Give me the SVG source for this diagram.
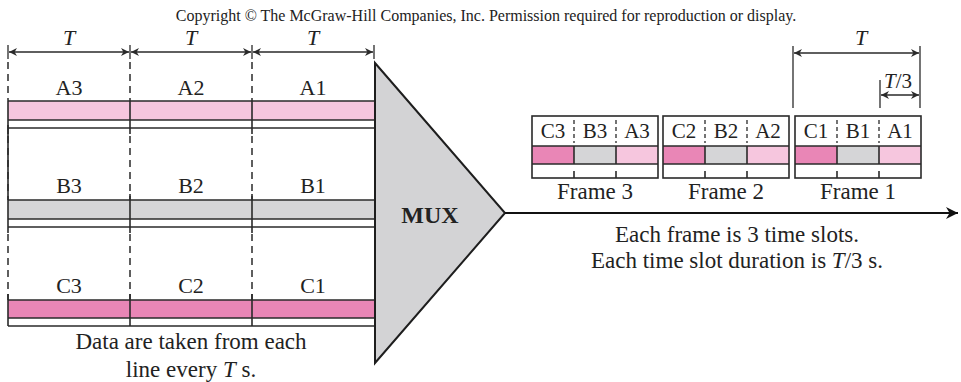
<svg xmlns="http://www.w3.org/2000/svg" width="961" height="382" viewBox="0 0 961 382">
  <style>
    .t { font-family: "Liberation Serif", "Times New Roman", serif; fill: #222; }
    .lbl { font-size: 22px; text-anchor: middle; }
    .big { font-size: 23px; text-anchor: middle; }
    .slot { font-size: 21px; text-anchor: middle; }
    .it { font-style: italic; }
    .ln { stroke: #2a2a2a; stroke-width: 1.6; fill: none; }
    .thin { stroke: #2a2a2a; stroke-width: 1.3; fill: none; }
    .dash { stroke: #2a2a2a; stroke-width: 1.5; stroke-dasharray: 7 5; fill: none; }
    .sdash { stroke: #2a2a2a; stroke-width: 1.3; stroke-dasharray: 4 3; fill: none; }
    .pa { fill: #f6c6de; }
    .pb { fill: #d5d5d7; }
    .pc { fill: #e986b6; }
  </style>
  <defs>
    <marker id="ah" viewBox="0 0 10 10" refX="10" refY="5" markerWidth="10" markerHeight="8" markerUnits="userSpaceOnUse" orient="auto-start-reverse">
      <path d="M0,0 L10,5 L0,10 L3,5 z" fill="#2a2a2a"/>
    </marker>
    <marker id="big" viewBox="0 0 10 10" refX="10" refY="5" markerWidth="15" markerHeight="12" markerUnits="userSpaceOnUse" orient="auto">
      <path d="M0,0 L10,5 L0,10 L3,5 z" fill="#111"/>
    </marker>
  </defs>

  <rect width="961" height="382" fill="#fff"/>

  <text class="t" x="486" y="21" font-size="16" text-anchor="middle">Copyright © The McGraw-Hill Companies, Inc. Permission required for reproduction or display.</text>

  <!-- period dimension marks above the input lines -->
  <g id="period-dims">
    <line class="thin" x1="8" y1="45" x2="8" y2="59"/>
    <line class="thin" x1="130" y1="45" x2="130" y2="59"/>
    <line class="thin" x1="252" y1="45" x2="252" y2="59"/>
    <line class="thin" x1="374" y1="45" x2="374" y2="59"/>
    <line class="thin" x1="9" y1="52" x2="129" y2="52" marker-start="url(#ah)" marker-end="url(#ah)"/>
    <line class="thin" x1="131" y1="52" x2="251" y2="52" marker-start="url(#ah)" marker-end="url(#ah)"/>
    <line class="thin" x1="253" y1="52" x2="373" y2="52" marker-start="url(#ah)" marker-end="url(#ah)"/>
    <text class="t lbl it" x="69" y="45">T</text>
    <text class="t lbl it" x="191" y="45">T</text>
    <text class="t lbl it" x="313" y="45">T</text>
  </g>

  <!-- dashed period boundaries -->
  <g id="boundaries">
    <line class="dash" x1="8" y1="62" x2="8" y2="101"/>
    <line class="dash" x1="130" y1="62" x2="130" y2="101"/>
    <line class="dash" x1="252" y1="62" x2="252" y2="101"/>
    <line class="dash" x1="8" y1="136" x2="8" y2="200"/>
    <line class="dash" x1="130" y1="136" x2="130" y2="200"/>
    <line class="dash" x1="252" y1="136" x2="252" y2="200"/>
    <line class="dash" x1="8" y1="234" x2="8" y2="300"/>
    <line class="dash" x1="130" y1="234" x2="130" y2="300"/>
    <line class="dash" x1="252" y1="234" x2="252" y2="300"/>
  </g>

  <!-- input line A -->
  <g id="line-a">
    <rect class="pa" x="8" y="101" width="367" height="19"/>
    <line class="ln" x1="8" y1="101" x2="375" y2="101"/>
    <line class="ln" x1="8" y1="120" x2="375" y2="120"/>
    <line class="ln" x1="8" y1="128" x2="375" y2="128"/>
    <line class="ln" x1="8" y1="101" x2="8" y2="134"/>
    <line class="ln" x1="130" y1="101" x2="130" y2="134"/>
    <line class="ln" x1="252" y1="101" x2="252" y2="134"/>
    <text class="t lbl" x="69" y="95">A3</text>
    <text class="t lbl" x="191" y="95">A2</text>
    <text class="t lbl" x="313" y="95">A1</text>
  </g>

  <!-- input line B -->
  <g id="line-b">
    <rect class="pb" x="8" y="200" width="367" height="19"/>
    <line class="ln" x1="8" y1="200" x2="375" y2="200"/>
    <line class="ln" x1="8" y1="219" x2="375" y2="219"/>
    <line class="ln" x1="8" y1="227" x2="375" y2="227"/>
    <line class="ln" x1="8" y1="125" x2="8" y2="233"/>
    <line class="ln" x1="130" y1="194" x2="130" y2="233"/>
    <line class="ln" x1="252" y1="194" x2="252" y2="233"/>
    <text class="t lbl" x="69" y="193">B3</text>
    <text class="t lbl" x="191" y="193">B2</text>
    <text class="t lbl" x="313" y="193">B1</text>
  </g>

  <!-- input line C -->
  <g id="line-c">
    <rect class="pc" x="8" y="300" width="367" height="18"/>
    <line class="ln" x1="8" y1="300" x2="375" y2="300"/>
    <line class="ln" x1="8" y1="318" x2="375" y2="318"/>
    <line class="ln" x1="8" y1="326" x2="375" y2="326"/>
    <line class="ln" x1="8" y1="294" x2="8" y2="326"/>
    <line class="ln" x1="130" y1="294" x2="130" y2="326"/>
    <line class="ln" x1="252" y1="294" x2="252" y2="326"/>
    <text class="t lbl" x="69" y="293">C3</text>
    <text class="t lbl" x="191" y="293">C2</text>
    <text class="t lbl" x="313" y="293">C1</text>
  </g>

  <text class="t big" x="191" y="349">Data are taken from each</text>
  <text class="t big" x="191" y="377">line every <tspan class="it">T</tspan> s.</text>

  <!-- multiplexer -->
  <g id="mux">
    <polygon points="375,63 505,213 375,363" fill="#d3d3d5" stroke="#1e1e1e" stroke-width="2" stroke-linejoin="miter"/>
    <text class="t" x="430" y="223" font-size="24" font-weight="bold" text-anchor="middle">MUX</text>
  </g>

  <!-- output link -->
  <g id="connectors">
    <line x1="505" y1="213" x2="958" y2="213" stroke="#111" stroke-width="2" marker-end="url(#big)"/>
  </g>

  <!-- frame 3 -->
  <g id="frame-3">
    <rect x="532" y="146" width="42" height="18" class="pc"/>
    <rect x="574" y="146" width="42" height="18" class="pb"/>
    <rect x="616" y="146" width="42" height="18" class="pa"/>
    <rect x="532" y="116" width="126" height="62" class="ln"/>
    <line class="ln" x1="532" y1="146" x2="658" y2="146"/>
    <line class="ln" x1="532" y1="164" x2="658" y2="164"/>
    <line class="ln" x1="574" y1="146" x2="574" y2="164"/>
    <line class="ln" x1="616" y1="146" x2="616" y2="164"/>
    <line class="sdash" x1="574" y1="120" x2="574" y2="143"/>
    <line class="sdash" x1="616" y1="120" x2="616" y2="143"/>
    <line class="ln" x1="574" y1="171" x2="574" y2="178"/>
    <line class="ln" x1="616" y1="171" x2="616" y2="178"/>
    <text class="t slot" x="553" y="138">C3</text>
    <text class="t slot" x="595" y="138">B3</text>
    <text class="t slot" x="637" y="138">A3</text>
    <text class="t big" x="595" y="199">Frame 3</text>
  </g>

  <!-- frame 2 -->
  <g id="frame-2">
    <rect x="663" y="146" width="42" height="18" class="pc"/>
    <rect x="705" y="146" width="42" height="18" class="pb"/>
    <rect x="747" y="146" width="42" height="18" class="pa"/>
    <rect x="663" y="116" width="126" height="62" class="ln"/>
    <line class="ln" x1="663" y1="146" x2="789" y2="146"/>
    <line class="ln" x1="663" y1="164" x2="789" y2="164"/>
    <line class="ln" x1="705" y1="146" x2="705" y2="164"/>
    <line class="ln" x1="747" y1="146" x2="747" y2="164"/>
    <line class="sdash" x1="705" y1="120" x2="705" y2="143"/>
    <line class="sdash" x1="747" y1="120" x2="747" y2="143"/>
    <line class="ln" x1="705" y1="171" x2="705" y2="178"/>
    <line class="ln" x1="747" y1="171" x2="747" y2="178"/>
    <text class="t slot" x="684" y="138">C2</text>
    <text class="t slot" x="726" y="138">B2</text>
    <text class="t slot" x="768" y="138">A2</text>
    <text class="t big" x="726" y="199">Frame 2</text>
  </g>

  <!-- frame 1 -->
  <g id="frame-1">
    <rect x="795" y="146" width="42" height="18" class="pc"/>
    <rect x="837" y="146" width="42" height="18" class="pb"/>
    <rect x="879" y="146" width="42" height="18" class="pa"/>
    <rect x="795" y="116" width="126" height="62" class="ln"/>
    <line class="ln" x1="795" y1="146" x2="921" y2="146"/>
    <line class="ln" x1="795" y1="164" x2="921" y2="164"/>
    <line class="ln" x1="837" y1="146" x2="837" y2="164"/>
    <line class="ln" x1="879" y1="146" x2="879" y2="164"/>
    <line class="sdash" x1="837" y1="120" x2="837" y2="143"/>
    <line class="sdash" x1="879" y1="120" x2="879" y2="143"/>
    <line class="ln" x1="837" y1="171" x2="837" y2="178"/>
    <line class="ln" x1="879" y1="171" x2="879" y2="178"/>
    <text class="t slot" x="816" y="138">C1</text>
    <text class="t slot" x="858" y="138">B1</text>
    <text class="t slot" x="900" y="138">A1</text>
    <text class="t big" x="858" y="199">Frame 1</text>
  </g>

  <!-- frame and slot durations -->
  <g id="frame-dims">
    <line class="thin" x1="793" y1="46" x2="793" y2="108"/>
    <line class="thin" x1="920" y1="46" x2="920" y2="108"/>
    <line class="thin" x1="880" y1="80" x2="880" y2="108"/>
    <line class="thin" x1="794" y1="53" x2="919" y2="53" marker-start="url(#ah)" marker-end="url(#ah)"/>
    <line class="thin" x1="881" y1="95" x2="919" y2="95" marker-start="url(#ah)" marker-end="url(#ah)"/>
    <text class="t lbl it" x="861" y="45">T</text>
    <text class="t" x="898" y="88" font-size="21" text-anchor="middle"><tspan class="it">T</tspan>/3</text>
  </g>

  <text class="t big" x="737" y="242">Each frame is 3 time slots.</text>
  <text class="t big" x="737" y="268">Each time slot duration is <tspan class="it">T</tspan>/3 s.</text>
</svg>
